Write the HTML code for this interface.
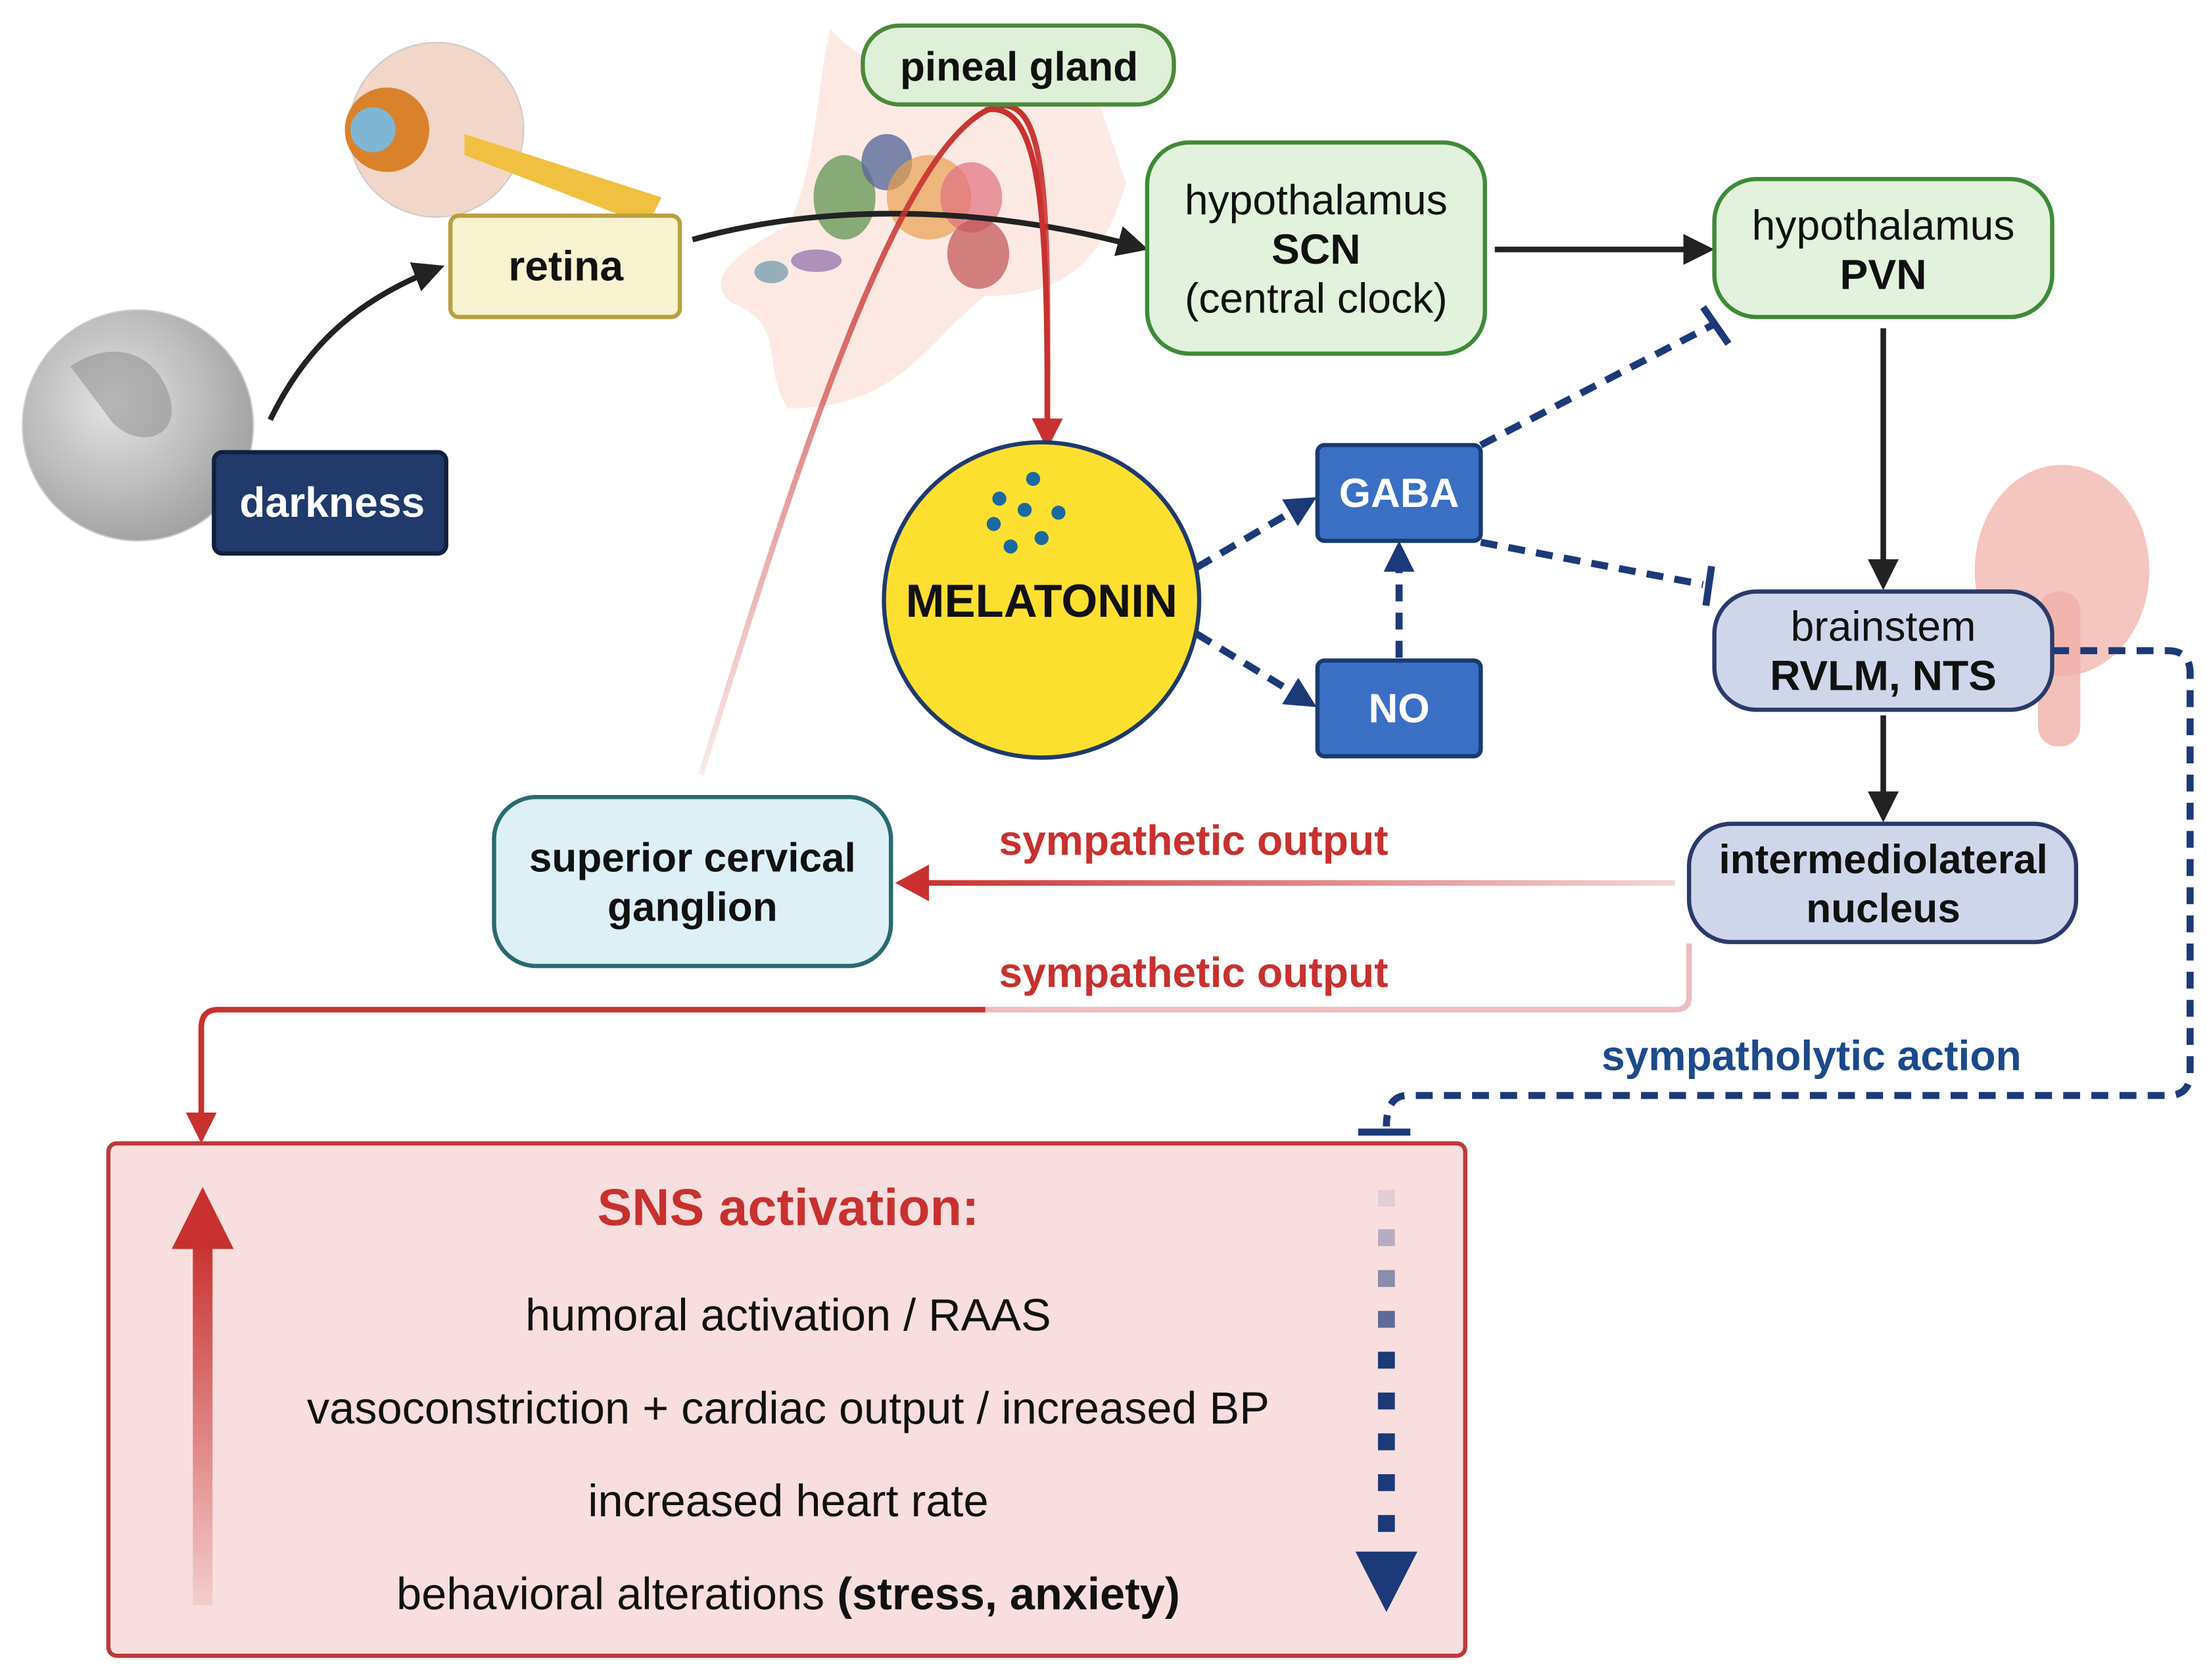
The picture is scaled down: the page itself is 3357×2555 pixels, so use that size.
<!DOCTYPE html>
<html><head><meta charset="utf-8"><style>
html,body{margin:0;padding:0;background:#fff;}
svg{display:block;}
text{font-family:"Liberation Sans",sans-serif;}
</style></head><body>
<svg width="3357" height="2555" viewBox="0 0 1568 1193" xmlns="http://www.w3.org/2000/svg">
<defs>
<marker id="ak" markerWidth="22" markerHeight="22" refX="18" refY="11" orient="auto" markerUnits="userSpaceOnUse"><path d="M0,0 L22,11 L0,22 z" fill="#222"/></marker>
<marker id="ar" markerWidth="22" markerHeight="22" refX="18" refY="11" orient="auto" markerUnits="userSpaceOnUse"><path d="M0,0 L22,11 L0,22 z" fill="#c8312f"/></marker>
<marker id="ab" markerWidth="22" markerHeight="22" refX="18" refY="11" orient="auto" markerUnits="userSpaceOnUse"><path d="M0,0 L22,11 L0,22 z" fill="#1c3a78"/></marker>
<linearGradient id="fadeR" x1="0" x2="1"><stop offset="0" stop-color="#c8312f"/><stop offset="1" stop-color="#c8312f" stop-opacity="0.2"/></linearGradient>
<linearGradient id="fadeV" x1="0" y1="0" x2="0" y2="1"><stop offset="0" stop-color="#c8312f"/><stop offset="1" stop-color="#c8312f" stop-opacity="0.1"/></linearGradient>
<radialGradient id="moon" cx="0.4" cy="0.4" r="0.7"><stop offset="0" stop-color="#e4e4e4"/><stop offset="1" stop-color="#9a9a9a"/></radialGradient>
</defs>
<path d="M590,20 C620,60 700,60 780,70 L800,130 C780,200 740,210 700,210 C660,240 640,290 560,290 C540,260 560,230 520,215 C500,200 520,180 560,160 C580,120 580,60 590,20z" fill="#fbe3dc" opacity="0.8"/>
<ellipse cx="600" cy="140" rx="22" ry="30" fill="#6a9a5a" opacity="0.8"/>
<ellipse cx="630" cy="115" rx="18" ry="20" fill="#5a6a9a" opacity="0.8"/>
<ellipse cx="660" cy="140" rx="30" ry="30" fill="#e8a050" opacity="0.7"/>
<ellipse cx="690" cy="140" rx="22" ry="25" fill="#e07080" opacity="0.7"/>
<ellipse cx="695" cy="180" rx="22" ry="25" fill="#c05050" opacity="0.7"/>
<ellipse cx="580" cy="185" rx="18" ry="8" fill="#9a7ab0" opacity="0.8"/>
<ellipse cx="548" cy="193" rx="12" ry="8" fill="#7aa0b0" opacity="0.8"/>
<ellipse cx="1465" cy="405" rx="62" ry="75" fill="#f3b6b0" opacity="0.8"/>
<rect x="1448" y="420" width="30" height="110" rx="14" fill="#f0b0a8" opacity="0.8"/>
<circle cx="98" cy="302" r="82" fill="url(#moon)" stroke="#ccc"/>
<path d="M50,260 C80,240 110,250 120,280 C130,310 100,320 80,300z" fill="#888" opacity="0.5"/>
<circle cx="310" cy="92" r="62" fill="#f2d6c8" stroke="#ccc"/>
<path d="M330,95 L470,140 L460,160 L330,110z" fill="#f0c040"/>
<circle cx="275" cy="92" r="30" fill="#d9822b"/>
<circle cx="265" cy="92" r="16" fill="#7fb6d6"/>
<rect x="152" y="321" width="165" height="72" rx="6" fill="#1f3a6b" stroke="#11213d" stroke-width="3"/>
<text x="236" y="367" font-size="30" font-weight="bold" fill="#fff" text-anchor="middle">darkness</text>
<rect x="320" y="153" width="163" height="72" rx="6" fill="#f7f3d0" stroke="#b8a040" stroke-width="3"/>
<text x="402" y="199" font-size="30" font-weight="bold" fill="#111" text-anchor="middle">retina</text>
<path d="M192,298 C220,240 260,210 312,190" fill="none" stroke="#222" stroke-width="4" marker-end="url(#ak)"/>
<path d="M492,170 C600,140 720,150 812,176" fill="none" stroke="#222" stroke-width="4" marker-end="url(#ak)"/>
<line x1="1062" y1="177" x2="1214" y2="177" stroke="#222" stroke-width="4" marker-end="url(#ak)"/>
<line x1="1338" y1="233" x2="1338" y2="415" stroke="#222" stroke-width="4" marker-end="url(#ak)"/>
<line x1="1338" y1="508" x2="1338" y2="580" stroke="#222" stroke-width="4" marker-end="url(#ak)"/>
<path d="M498,550 C560,350 640,90 710,75 C745,70 745,150 744,305" fill="none" stroke="url(#fadeV)" stroke-width="4"/>
<path d="M700,78 C740,70 745,150 744,315" fill="none" stroke="#c8312f" stroke-width="4" marker-end="url(#ar)"/>
<rect x="613" y="18" width="221" height="56" rx="26" fill="#dff0d8" stroke="#4a8a3a" stroke-width="3"/>
<text x="724" y="57" font-size="29" font-weight="bold" fill="#111" text-anchor="middle">pineal gland</text>
<rect x="815" y="101" width="240" height="150" rx="30" fill="#e2f2dc" stroke="#3e8a38" stroke-width="3"/>
<text x="935" y="152" font-size="30" fill="#111" text-anchor="middle">hypothalamus</text>
<text x="935" y="187" font-size="30" font-weight="bold" fill="#111" text-anchor="middle">SCN</text>
<text x="935" y="222" font-size="30" fill="#111" text-anchor="middle">(central clock)</text>
<rect x="1218" y="127" width="240" height="98" rx="30" fill="#e2f2dc" stroke="#3e8a38" stroke-width="3"/>
<text x="1338" y="170" font-size="30" fill="#111" text-anchor="middle">hypothalamus</text>
<text x="1338" y="205" font-size="30" font-weight="bold" fill="#111" text-anchor="middle">PVN</text>
<g stroke="#1c3a78" stroke-width="5" stroke-dasharray="12,8" fill="none">
<line x1="850" y1="403" x2="932" y2="355" marker-end="url(#ab)"/>
<line x1="850" y1="450" x2="932" y2="500" marker-end="url(#ab)"/>
<line x1="994" y1="467" x2="994" y2="388" marker-end="url(#ab)"/>
<line x1="1052" y1="316" x2="1218" y2="230"/>
<line x1="1052" y1="385" x2="1210" y2="415"/>
<path d="M1458,462 L1540,462 Q1556,462 1556,478 L1556,762 Q1556,778 1540,778 L1000,778 Q985,778 985,800"/>
</g>
<g stroke="#1c3a78" stroke-width="5" fill="none">
<line x1="1210" y1="218" x2="1228" y2="244"/>
<line x1="1216" y1="402" x2="1212" y2="430"/>
<line x1="965" y1="804" x2="1002" y2="804"/>
</g>
<circle cx="740" cy="426" r="112" fill="#fde02f" stroke="#1f3a6b" stroke-width="3"/>
<g fill="#1a6aa0"><circle cx="734" cy="340" r="5"/><circle cx="710" cy="354" r="5"/><circle cx="728" cy="362" r="5"/><circle cx="752" cy="364" r="5"/><circle cx="706" cy="372" r="5"/><circle cx="740" cy="382" r="5"/><circle cx="718" cy="388" r="5"/></g>
<text x="740" y="438" font-size="33" font-weight="bold" fill="#111" text-anchor="middle">MELATONIN</text>
<rect x="936" y="316" width="116" height="68" rx="5" fill="#3a6fc4" stroke="#1a3a70" stroke-width="3"/>
<text x="994" y="360" font-size="29" font-weight="bold" fill="#fff" text-anchor="middle">GABA</text>
<rect x="936" y="469" width="116" height="68" rx="5" fill="#3a6fc4" stroke="#1a3a70" stroke-width="3"/>
<text x="994" y="513" font-size="29" font-weight="bold" fill="#fff" text-anchor="middle">NO</text>
<rect x="1218" y="420" width="240" height="84" rx="30" fill="#d0d6ea" stroke="#2a3a6a" stroke-width="3"/>
<text x="1338" y="455" font-size="30" fill="#111" text-anchor="middle">brainstem</text>
<text x="1338" y="490" font-size="30" font-weight="bold" fill="#111" text-anchor="middle">RVLM, NTS</text>
<rect x="1200" y="585" width="275" height="84" rx="30" fill="#d0d6ea" stroke="#2a3a6a" stroke-width="3"/>
<text x="1338" y="620" font-size="29" font-weight="bold" fill="#111" text-anchor="middle">intermediolateral</text>
<text x="1338" y="655" font-size="29" font-weight="bold" fill="#111" text-anchor="middle">nucleus</text>
<rect x="351" y="566" width="282" height="120" rx="30" fill="#dcf0f6" stroke="#2a6a70" stroke-width="3"/>
<text x="492" y="619" font-size="29" font-weight="bold" fill="#111" text-anchor="middle">superior cervical</text>
<text x="492" y="654" font-size="29" font-weight="bold" fill="#111" text-anchor="middle">ganglion</text>
<rect x="650" y="625" width="540" height="4" fill="url(#fadeR)"/>
<path d="M636,627 L660,614 L660,640z" fill="#c8312f"/>
<text x="848" y="607" font-size="30" font-weight="bold" fill="#c8312f" text-anchor="middle">sympathetic output</text>
<path d="M1200,670 L1200,708 Q1200,717 1190,717 L700,717" fill="none" stroke="#eebcbc" stroke-width="4"/>
<path d="M700,717 L155,717 Q143,717 143,730 L143,808" fill="none" stroke="#c8312f" stroke-width="4" marker-end="url(#ar)"/>
<text x="848" y="701" font-size="30" font-weight="bold" fill="#c8312f" text-anchor="middle">sympathetic output</text>
<text x="1287" y="760" font-size="30" font-weight="bold" fill="#1c4a8a" text-anchor="middle">sympatholytic action</text>
<rect x="77" y="812" width="964" height="364" rx="6" fill="#f8dede" stroke="#c0393b" stroke-width="3"/>
<text x="560" y="870" font-size="37" font-weight="bold" fill="#c8312f" text-anchor="middle">SNS activation:</text>
<text x="560" y="945" font-size="32" fill="#111" text-anchor="middle">humoral activation / RAAS</text>
<text x="560" y="1011" font-size="32" fill="#111" text-anchor="middle">vasoconstriction + cardiac output / increased BP</text>
<text x="560" y="1077" font-size="32" fill="#111" text-anchor="middle">increased heart rate</text>
<text x="560" y="1143" font-size="32" fill="#111" text-anchor="middle">behavioral alterations <tspan font-weight="bold">(stress, anxiety)</tspan></text>
<rect x="137" y="880" width="14" height="260" fill="url(#fadeV)"/>
<path d="M122,887 L144,843 L166,887z" fill="#c8312f"/>
<g fill="#1c3a78">
<rect x="979" y="845" width="12" height="12" opacity="0.1"/>
<rect x="979" y="873" width="12" height="12" opacity="0.3"/>
<rect x="979" y="902" width="12" height="12" opacity="0.5"/>
<rect x="979" y="931" width="12" height="12" opacity="0.7"/>
<rect x="979" y="960" width="12" height="12"/>
<rect x="979" y="989" width="12" height="12"/>
<rect x="979" y="1018" width="12" height="12"/>
<rect x="979" y="1047" width="12" height="12"/>
<rect x="979" y="1076" width="12" height="12"/>
<path d="M963,1102 L1007,1102 L985,1145z"/>
</g>
</svg>
</body></html>
